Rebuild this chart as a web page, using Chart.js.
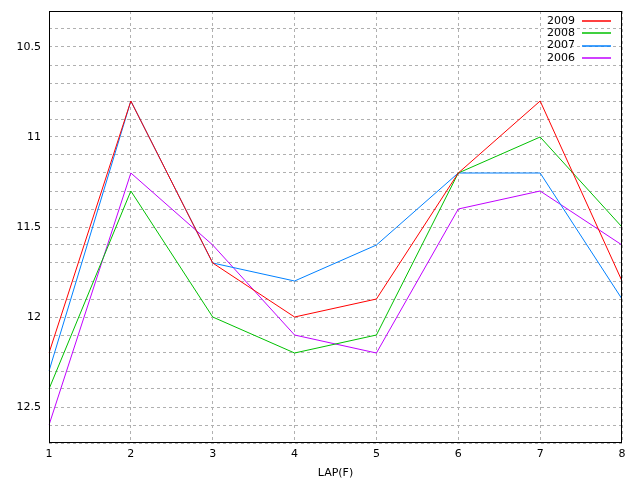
<!DOCTYPE html>
<html>
<head>
<meta charset="utf-8">
<script src="https://cdn.jsdelivr.net/npm/chart.js@4.4.1/dist/chart.umd.min.js"></script>
<style>
  html, body { margin: 0; padding: 0; background: #fff; }
  #wrap { width: 640px; height: 480px; }
</style>
</head>
<body>
<div id="wrap"><canvas id="myChart"></canvas></div>
<script>
// Laps on the x axis
const laps = ['1', '2', '3', '4', '5', '6', '7', '8'];

// One series per year
const years = ['2009', '2008', '2007', '2006'];
const values2009 = [12.2, 10.8, 11.7, 12.0, 11.9, 11.2, 10.8, 11.8];
const values2008 = [12.4, 11.3, 12.0, 12.2, 12.1, 11.2, 11.0, 11.5];
const values2007 = [12.3, 10.8, 11.7, 11.8, 11.6, 11.2, 11.2, 11.9];
const values2006 = [12.6, 11.2, 11.6, 12.1, 12.2, 11.4, 11.3, 11.6];

const lineColors = ['#ff0000', '#00c000', '#0080ff', '#c000ff'];
const fontFamily = '"DejaVu Sans", sans-serif';

// Black frame round the plot area plus the legend in the top right corner
const frameAndKey = {
    id: 'frameAndKey',
    afterDraw(chart) {
        const { ctx, chartArea: { top, bottom, left, right } } = chart;
        ctx.save();
        ctx.strokeStyle = '#000';
        ctx.lineWidth = 1;
        ctx.strokeRect(left + 0.5, top + 0.5, right - left - 1, bottom - top - 1);

        ctx.font = '11px ' + fontFamily;
        ctx.textAlign = 'right';
        ctx.textBaseline = 'middle';
        chart.data.datasets.forEach((ds, i) => {
            const y = top + 10 + i * 12.3;
            ctx.fillStyle = '#000';
            ctx.fillText(ds.label, right - 47, y);
            ctx.strokeStyle = ds.borderColor;
            ctx.lineWidth = 1.5;
            ctx.beginPath();
            ctx.moveTo(right - 40, Math.round(y));
            ctx.lineTo(right - 11, Math.round(y));
            ctx.stroke();
        });
        ctx.restore();
    }
};

const seriesValues = [values2009, values2008, values2007, values2006];

new Chart(document.getElementById('myChart'), {
    type: 'line',
    data: {
        labels: laps,
        datasets: years.map((year, i) => ({
            label: year,
            data: seriesValues[i],
            borderColor: lineColors[i],
            backgroundColor: lineColors[i],
            borderWidth: 1,
            pointRadius: 0,
            tension: 0,
            fill: false
        }))
    },
    options: {
        responsive: true,
        maintainAspectRatio: false,
        animation: false,
        layout: { padding: { top: 11, right: 18, left: 0, bottom: 0 } },
        plugins: {
            legend: { display: false },
            tooltip: { enabled: false }
        },
        scales: {
            x: {
                offset: false,
                grid: { color: '#b0b0b0', drawTicks: false },
                border: { dash: [3, 3], display: false },
                ticks: {
                    color: '#000',
                    font: { family: fontFamily, size: 11 },
                    padding: 5,
                    maxRotation: 0
                },
                title: {
                    display: true,
                    text: 'LAP(F)',
                    color: '#000',
                    font: { family: fontFamily, size: 11 },
                    padding: { top: 4, bottom: 0 }
                },
                afterFit(scale) { scale.height = 37; }
            },
            y: {
                reverse: true,
                min: 10.3,
                max: 12.7,
                grid: { color: '#b0b0b0', drawTicks: false },
                border: { dash: [3, 3], display: false },
                ticks: {
                    stepSize: 0.1,
                    autoSkip: false,
                    color: '#000',
                    font: { family: fontFamily, size: 11 },
                    padding: 8,
                    callback(value) {
                        const twice = value * 2;
                        if (Math.abs(twice - Math.round(twice)) < 1e-6) {
                            return String(Math.round(twice) / 2);
                        }
                        return '';
                    }
                },
                afterFit(scale) {
                    scale.width = 49;
                    scale.paddingTop = 0;
                    scale.paddingBottom = 0;
                }
            }
        }
    },
    plugins: [frameAndKey]
});
</script>
</body>
</html>
